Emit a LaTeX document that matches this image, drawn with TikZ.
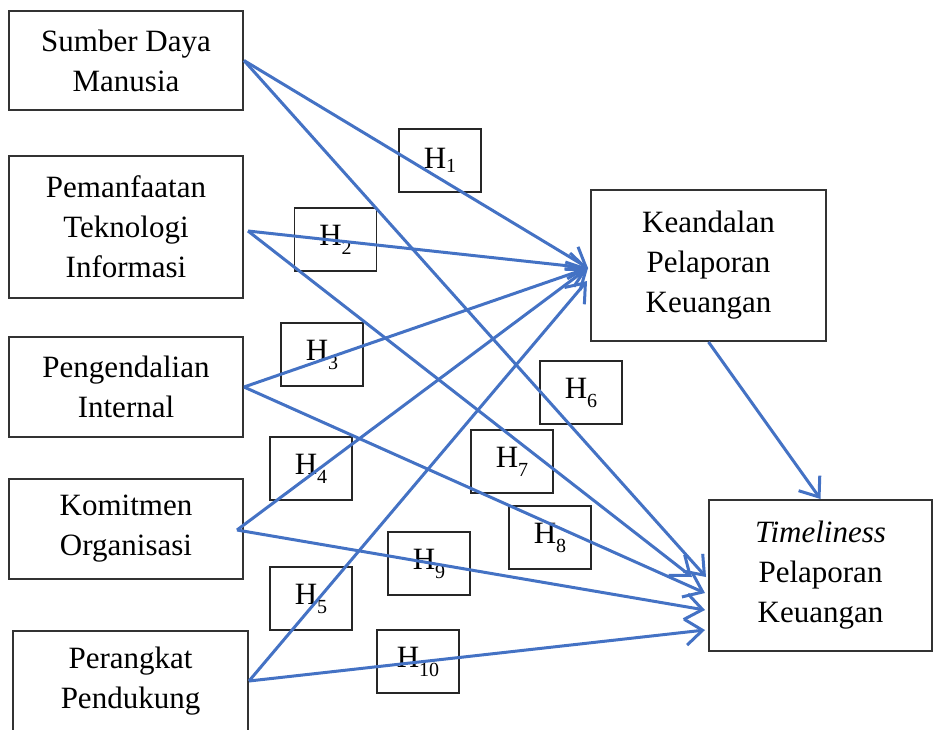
\documentclass[tikz,border=0pt]{standalone}
\usepackage{fontspec}
\setmainfont{Liberation Serif}
\usetikzlibrary{arrows.meta}
\definecolor{arr}{RGB}{68,114,196}
\newcommand{\hyp}[2]{H\raisebox{#2}{\fontsize{20}{20}\selectfont #1}}
\begin{document}
\begin{tikzpicture}[x=1pt,y=-1pt,
 box/.style={draw=black!80,line width=2pt,inner sep=0pt,align=center,font=\fontsize{31}{40}\selectfont},
 hbox/.style={draw=black!85,line width=1.8pt,minimum width=82pt,minimum height=63pt,inner sep=0pt,font=\fontsize{31}{36}\selectfont},
 link/.style={draw=arr,line width=3pt,-{Straight Barb[length=17pt,width=26pt]}}]
\useasboundingbox (0,0) rectangle (934,729);
% main boxes
\node[box,minimum width=234pt,minimum height=99pt] (sdm) at (126,60.5) {Sumber Daya\\Manusia};
\node[box,minimum width=234pt,minimum height=142pt] (pti) at (126,227) {Pemanfaatan\\Teknologi\\Informasi};
\node[box,minimum width=234pt,minimum height=100pt] (pi) at (126,387) {Pengendalian\\Internal};
\node[box,minimum width=234pt,minimum height=100pt] (ko) at (126,529) {Komitmen\\Organisasi};
\node[box,minimum width=235pt,minimum height=100pt] (pp) at (130.5,681) {Perangkat\\Pendukung};
\node[box,minimum width=235pt,minimum height=151pt] (ke) at (708.5,265.5) {Keandalan\\Pelaporan\\Keuangan};
\node[box,minimum width=223pt,minimum height=151pt] (tl) at (820.5,575.5) {\textit{Timeliness}\\Pelaporan\\Keuangan};
% hypothesis boxes
\node[hbox] (h1) at (440,160.5) {\hyp{1}{-4pt}};
\node[hbox] (h2) at (335.5,239.5) {\hyp{2}{-9pt}};
\node[hbox] (h3) at (322,354.5) {\hyp{3}{-9pt}};
\node[hbox] (h4) at (311,468.5) {\hyp{4}{-9pt}};
\node[hbox] (h5) at (311,598.5) {\hyp{5}{-9pt}};
\node[hbox] (h6) at (581,392.5) {\hyp{6}{-9pt}};
\node[hbox] (h7) at (512,461.5) {\hyp{7}{-9pt}};
\node[hbox] (h8) at (550,537.5) {\hyp{8}{-9pt}};
\node[hbox] (h9) at (429,563.5) {\hyp{9}{-9pt}};
\node[hbox] (h10) at (418,661.5) {\hyp{10}{-9pt}};
% connector end points
\coordinate (s2) at (248,231);
\coordinate (s4) at (237,530);
\coordinate (k1) at (588,268);
\coordinate (k2) at (587,281);
\coordinate (t1) at (706,577);
\coordinate (t2) at (692,577);
\coordinate (t3) at (705,593);
\coordinate (t4) at (705,610);
\coordinate (t5) at (705,630);
% connectors
\draw[link] (sdm.east) -- (k1);
\draw[link] (sdm.east) -- (t1);
\draw[link] (s2) -- (k1);
\draw[link] (s2) -- (t2);
\draw[link] (pi.east) -- (k1);
\draw[link] (pi.east) -- (t3);
\draw[link] (s4) -- (k1);
\draw[link] (s4) -- (t4);
\draw[link] (pp.east) -- (k2);
\draw[link] (pp.east) -- (t5);
\draw[link] (ke.south) -- (tl.north);
\end{tikzpicture}
\end{document}
